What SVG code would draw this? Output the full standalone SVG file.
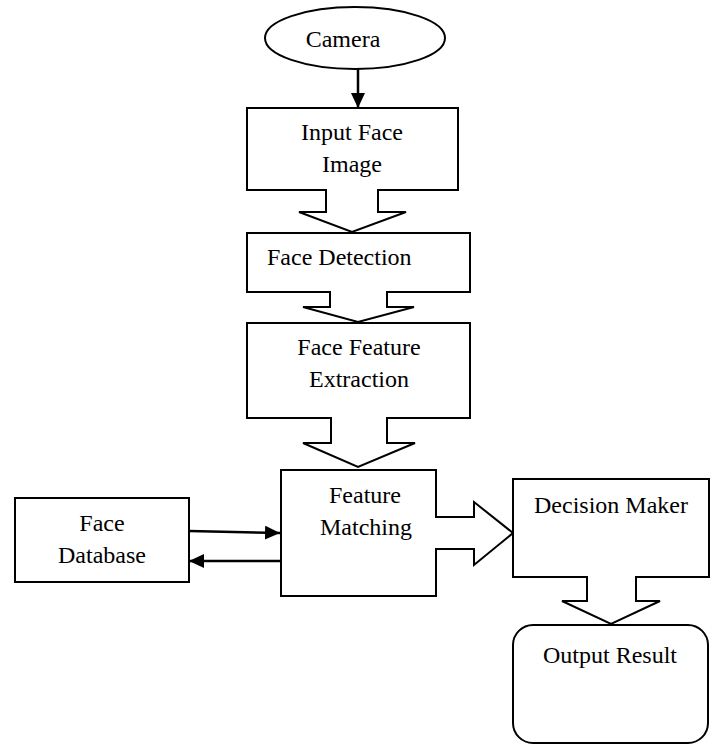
<svg xmlns="http://www.w3.org/2000/svg" width="714" height="746" viewBox="0 0 714 746">
<style>
.s{fill:#fff;stroke:#000;stroke-width:2;stroke-linejoin:miter}
.t{font-family:"Liberation Serif","Times New Roman",serif;font-size:24px;fill:#000;text-anchor:middle}
.c{stroke:#000;stroke-width:2.5;fill:none}
</style>
<defs>
<marker id="ah" markerWidth="16" markerHeight="14" refX="15" refY="7" orient="auto" markerUnits="userSpaceOnUse">
<path d="M0,0 L15,7 L0,14 Z" fill="#000"/>
</marker>
</defs>
<rect width="714" height="746" fill="#fff"/>
<g id="camera">
<ellipse class="s" cx="355" cy="38" rx="90" ry="31"/>
<text class="t" x="343" y="47">Camera</text>
</g>
<g id="input">
<path class="s" d="M247,108 H458 V190 H378 V212 H406 L352,232 L299,212 H326 V190 H247 Z"/>
<text class="t" x="352" y="140">Input Face</text>
<text class="t" x="352" y="172">Image</text>
</g>
<g id="detection">
<path class="s" d="M247,233 H470 V292 H387 V307 H414 L358,322 L303,307 H330 V292 H247 Z"/>
<text class="t" x="267" y="265" style="text-anchor:start">Face Detection</text>
</g>
<g id="extraction">
<path class="s" d="M247,323 H470 V418 H387 V443 H415 L358,467 L303,443 H331 V418 H247 Z"/>
<text class="t" x="359" y="355">Face Feature</text>
<text class="t" x="359" y="387">Extraction</text>
</g>
<g id="matching">
<path class="s" d="M281,470 H436 V517 H474 V502 L513,533 L474,565 V549 H436 V596 H281 Z"/>
<text class="t" x="365" y="503">Feature</text>
<text class="t" x="366" y="535">Matching</text>
</g>
<g id="database">
<rect class="s" x="15" y="498" width="174" height="84"/>
<text class="t" x="102" y="531">Face</text>
<text class="t" x="102" y="563">Database</text>
</g>
<g id="decision">
<path class="s" d="M513,479 H709 V577 H636 V601 H660 L611,624 L562,601 H587 V577 H513 Z"/>
<text class="t" x="611" y="513">Decision Maker</text>
</g>
<g id="output">
<rect class="s" x="513" y="625" width="195" height="118" rx="20" ry="20"/>
<text class="t" x="610" y="663">Output Result</text>
</g>
<g id="connectors">
<line class="c" x1="358" y1="69" x2="358" y2="108" marker-end="url(#ah)"/>
<line class="c" x1="189" y1="531" x2="280" y2="533" marker-end="url(#ah)"/>
<line class="c" x1="281" y1="561" x2="189" y2="561" marker-end="url(#ah)"/>
</g>
</svg>
